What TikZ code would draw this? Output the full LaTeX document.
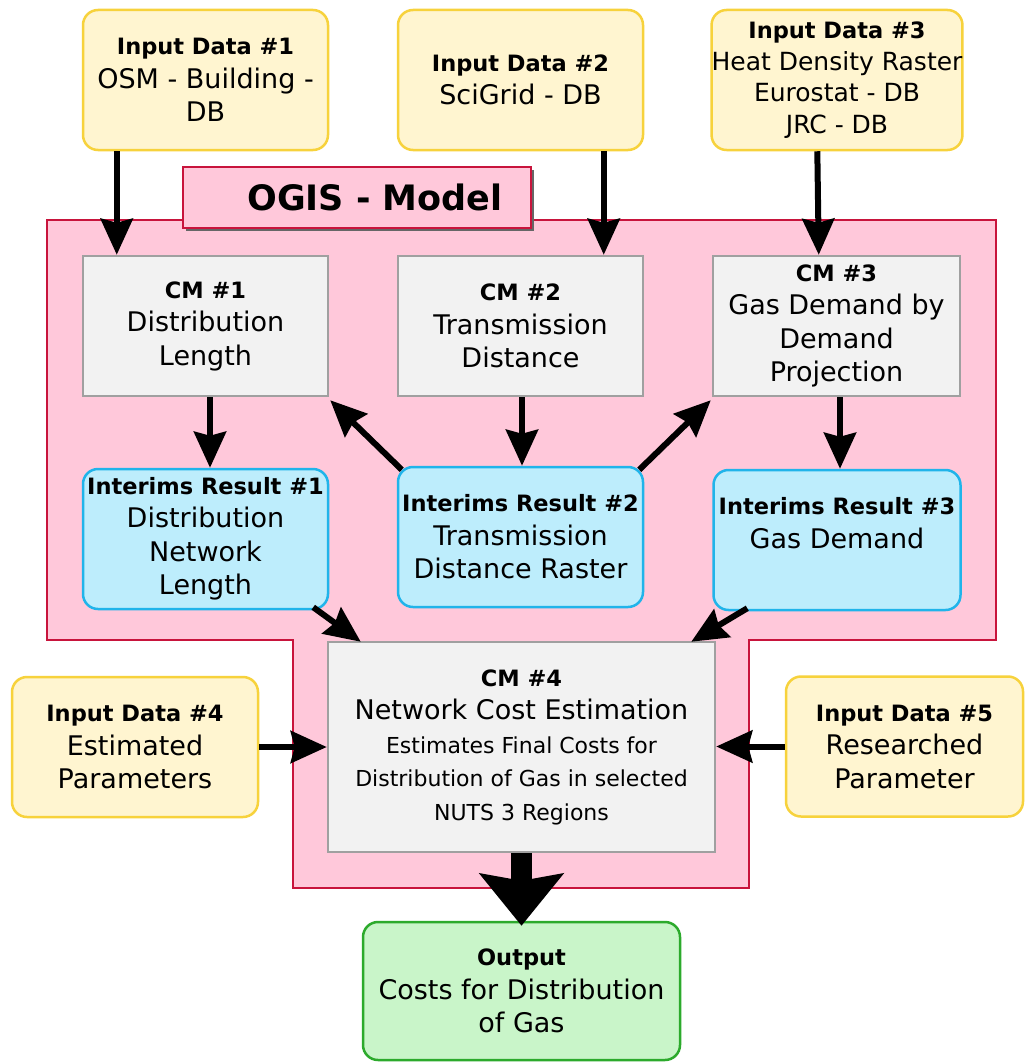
\documentclass[tikz,border=0pt]{standalone}
\usepackage{fontspec}
\setmainfont{DejaVu Sans}
\usetikzlibrary{arrows.meta,calc,shadows}
\definecolor{yelfill}{HTML}{FFF5D0}
\definecolor{yeldraw}{HTML}{F7D23C}
\definecolor{pinkfill}{HTML}{FFC8DA}
\definecolor{pinkdraw}{HTML}{C8143C}
\definecolor{greyfill}{HTML}{F2F2F2}
\definecolor{greydraw}{HTML}{A0A0A0}
\definecolor{bluefill}{HTML}{BDEDFC}
\definecolor{bluedraw}{HTML}{20B4EA}
\definecolor{greenfill}{HTML}{C9F5C9}
\definecolor{greendraw}{HTML}{2CAA2C}
\newcommand\hd[1]{{\fontsize{22.5pt}{32pt}\selectfont\bfseries #1}}
\newcommand\smtxt[1]{{\fontsize{22pt}{33.5pt}\selectfont #1}}
\begin{document}
\begin{tikzpicture}[x=1pt,y=-1pt,
  base/.style={align=center, inner sep=0pt, line width=2.5pt,
    font=\fontsize{27pt}{33.5pt}\selectfont, text=black},
  sz/.style 2 args={minimum width=#1pt, minimum height=#2pt},
  inbox/.style={base, rounded corners=15pt, fill=yelfill, draw=yeldraw},
  cmbox/.style={base, fill=greyfill, draw=greydraw},
  resbox/.style={base, rounded corners=15pt, fill=bluefill, draw=bluedraw},
  outbox/.style={base, rounded corners=15pt, fill=greenfill, draw=greendraw},
  arr/.style={line width=6pt,
    -{Stealth[length=36pt,width=32pt,inset=4pt]}},
  bigarr/.style={line width=21pt,
    -{Stealth[length=52pt,width=83pt,inset=7pt]}},
  ]
\useasboundingbox (0,0) rectangle (1025,1062);
\fill[white] (0,0) rectangle (1025,1062);

% model region
\draw[fill=pinkfill, draw=pinkdraw, line width=2.5pt]
  (47,220) -- (996,220) -- (996,640) -- (749,640) -- (749,888)
  -- (293,888) -- (293,640) -- (47,640) -- cycle;

\node[base, sz={348}{61}, fill=pinkfill, draw=pinkdraw,
  drop shadow={shadow xshift=3pt, shadow yshift=-3pt, fill=black!60, opacity=1},
  font=\fontsize{35pt}{40pt}\selectfont\bfseries] (ogis) at (357,197.5)
  {\hspace*{36pt}OGIS - Model};

% input boxes
\node[inbox, sz={245}{140}] (in1) at (205.5,80)
  {\hd{Input Data \#1}\\OSM - Building -\\DB};
\node[inbox, sz={245}{140}] (in2) at (520.5,80)
  {\hd{Input Data \#2}\\SciGrid - DB};
\node[inbox, sz={247}{140}, font=\fontsize{25pt}{31.5pt}\selectfont] (in3) at (837,80)
  {\hd{Input Data \#3}\\Heat Density Raster\\Eurostat - DB\\JRC - DB};

% calculation modules
\node[cmbox, sz={245}{140}] (cm1) at (205.5,326)
  {\hd{CM \#1}\\Distribution\\Length};
\node[cmbox, sz={245}{140}] (cm2) at (520.5,326)
  {\hd{CM \#2}\\Transmission\\Distance};
\node[cmbox, sz={247}{140}] (cm3) at (836.5,326)
  {\hd{CM \#3}\\Gas Demand by\\Demand\\Projection};

% interim results
\node[resbox, sz={245}{140}] (int1) at (205.5,539)
  {\hd{Interims Result \#1}\\Distribution\\Network\\Length};
\node[resbox, sz={245}{140}] (int2) at (520.5,537)
  {\hd{Interims Result \#2}\\Transmission\\Distance Raster};
\node[resbox, sz={247}{140}] (int3) at (837,540)
  {\hd{Interims Result \#3}\\Gas Demand\\\phantom{G}};

% CM 4
\node[cmbox, sz={387}{210}] (cm4) at (521.5,747)
  {\hd{CM \#4}\\Network Cost Estimation\\\smtxt{Estimates Final Costs for}\\
   \smtxt{Distribution of Gas in selected}\\\smtxt{NUTS 3 Regions}};

\node[inbox, sz={246}{140}] (in4) at (135,747)
  {\hd{Input Data \#4}\\Estimated\\Parameters};
\node[inbox, sz={237}{140}] (in5) at (904.5,746.5)
  {\hd{Input Data \#5}\\Researched\\Parameter};

\node[outbox, sz={317}{138}] (out) at (521.5,991)
  {\hd{Output}\\Costs for Distribution\\of Gas};

% connectors
\draw[arr] ($(in1.south west)+(35,0)$) -- ($(cm1.north west)+(35,0)$);
\draw[arr] ($(in2.south west)+(207,0)$) -- ($(cm2.north west)+(207,0)$);
\draw[arr] ($(in3.south west)+(107,0)$) -- ($(cm3.north west)+(107,0)$);
\draw[arr] ($(cm1.south)+(4.5,0)$) -- ($(int1.north)+(4.5,0)$);
\draw[arr] ($(cm2.south)+(1.5,0)$) -- ($(int2.north)+(1.5,0)$);
\draw[arr] ($(cm3.south)+(3.5,0)$) -- ($(int3.north)+(3,0)$);
\draw[arr] ($(int2.north west)+(5,4)$) -- ($(cm1.south east)+(1,3)$);
\draw[arr] ($(int2.north east)+(-5,4)$) -- ($(cm3.south west)+(-1,3)$);
\draw[arr] ($(int1.south east)+(-16,-3)$) -- ($(cm4.north west)+(34,1)$);
\draw[arr] ($(int3.south west)+(35,-3)$) -- ($(cm4.north east)+(-25,1)$);
\draw[arr] (in4.east) -- (cm4.west |- in4.east);
\draw[arr] (in5.west) -- (cm4.east |- in5.west);
\draw[bigarr] (cm4.south) -- ($(out.north)+(0,5)$);
\end{tikzpicture}
\end{document}
